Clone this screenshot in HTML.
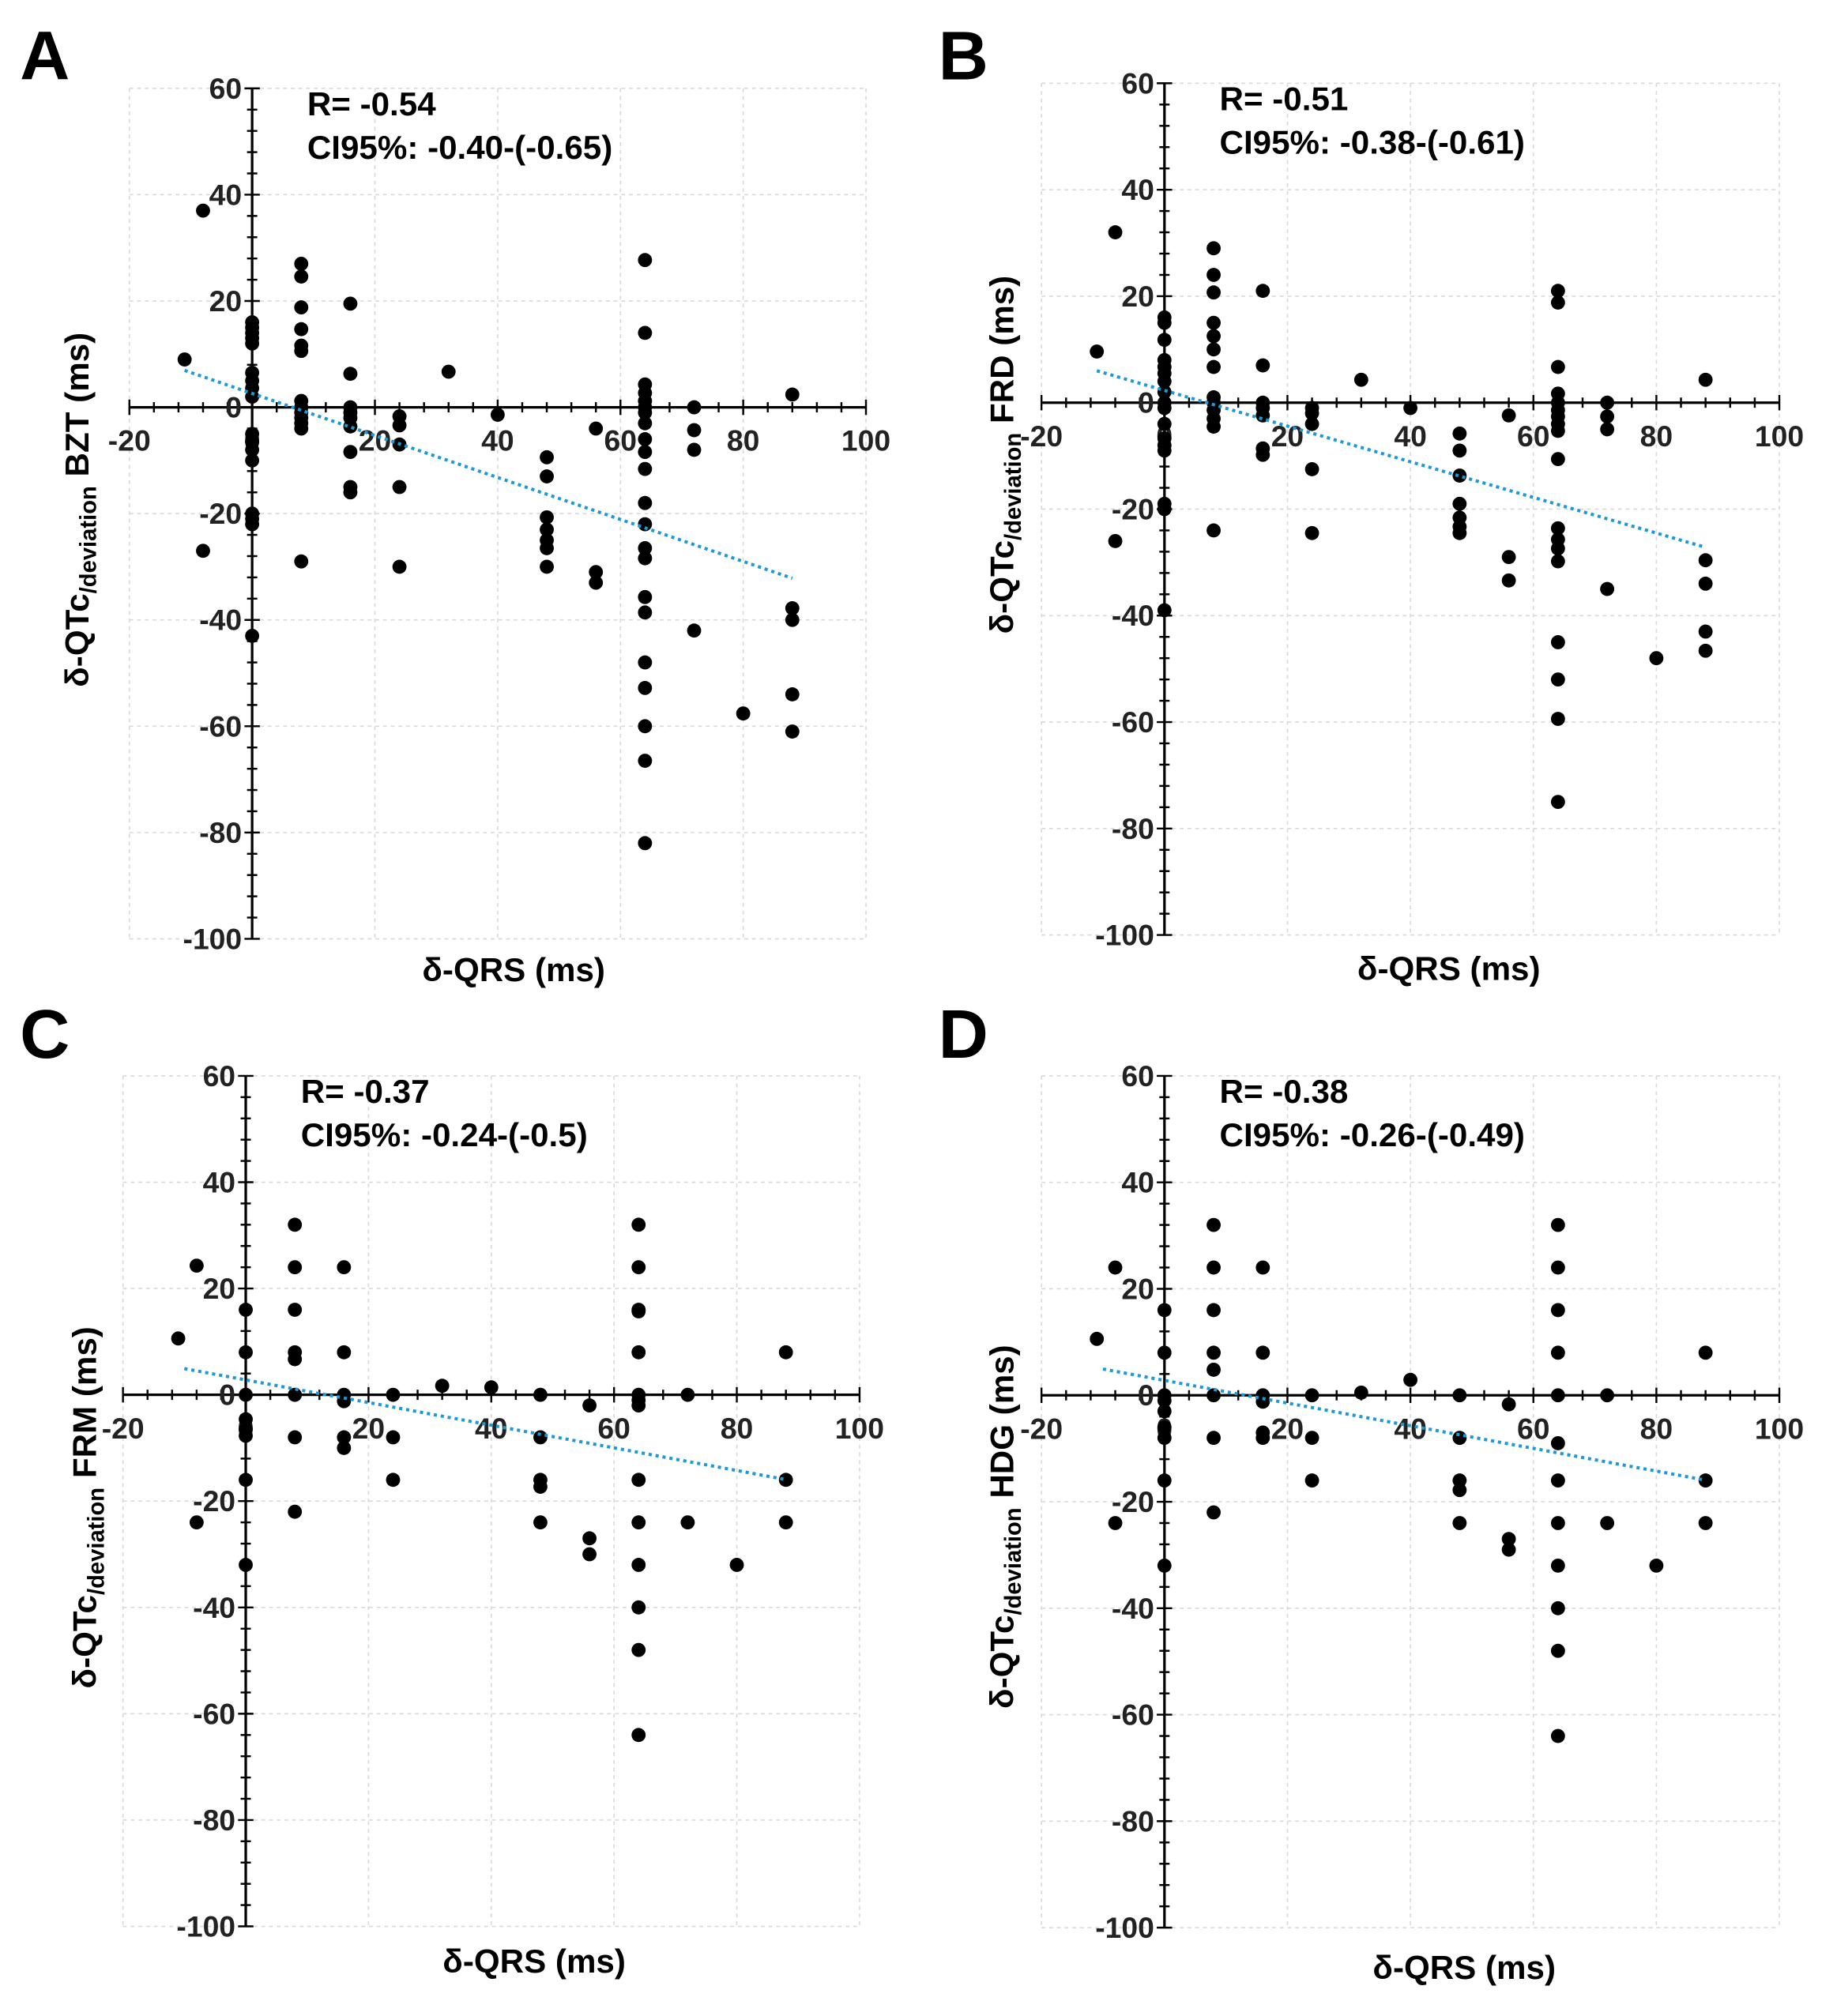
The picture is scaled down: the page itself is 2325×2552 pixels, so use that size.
<!DOCTYPE html>
<html><head><meta charset="utf-8">
<style>
html,body{margin:0;padding:0;background:#fff;}
svg{display:block;font-family:"Liberation Sans",Arial,sans-serif;}
</style></head>
<body>
<svg id="fig" width="2325" height="2552" viewBox="0 0 1434 1574" preserveAspectRatio="none" xmlns="http://www.w3.org/2000/svg"></svg>
<script>
const xTicks=[-20,0,20,40,60,80,100];
const yTicks=[60,40,20,0,-20,-40,-60,-80,-100];
// Panel A (BZT)
const aX=[-11,-8,-8, 0,0,0,0,0,0,0,0,0,0,0,0,0,0,0,0,0, 8,8,8,8,8,8,8,8,8,8,8,8,8, 16,16,16,16,16,16,16,16,16, 24,24,24,24,24, 32,40, 48,48,48,48,48,48,48, 56,56,56, 64,64,64,64,64,64,64,64,64,64,64,64,64,64,64,64,64,64,64,64,64,64, 72,72,72,72, 80, 88,88,88,88,88];
const aY=[9,37,-27, 16,15,14,13,12,6.5,5,3.6,2,-5,-6.5,-8,-10,-20,-21,-22,-43, 27,24.6,18.8,14.7,11.6,10.6,1.2,0,-1,-2,-3,-4,-29, 19.5,6.3,0,-1,-2,-3.6,-8.4,-15,-16, -1.7,-3.4,-7,-15,-30, 6.7,-1.4, -9.4,-13,-20.7,-23,-25,-26.5,-30, -4,-31,-33, 27.7,14,4.3,2.7,1.2,0,-1,-3,-6,-8.4,-11.6,-18,-22,-26.5,-28.4,-35.7,-38.6,-48,-52.8,-60,-66.5,-82, 0,-4.3,-8,-42, -57.6, 2.4,-37.8,-40,-54,-61];
// Panel B (FRD)
const bX=[-11,-8,-8, 0,0,0,0,0,0,0,0,0,0,0,0,0,0,0,0,0, 8,8,8,8,8,8,8,8,8,8,8,8,8, 16,16,16,16,16,16,16, 24,24,24,24,24, 32,40, 48,48,48,48,48,48,48, 56,56,56, 64,64,64,64,64,64,64,64,64,64,64,64,64,64,64,64,64,64, 72,72,72,72, 80, 88,88,88,88,88];
const bY=[9.6,32,-26, 16,15,11.8,8,6.7,5.5,4,2,0,-1,-4,-6.7,-8,-9,-19,-20,-39, 29,24,20.7,15,12.5,10,6.7,1,0,-1.4,-3,-4.5,-24, 21,7,0,-1,-2.4,-8.6,-9.8, -1,-2,-4,-12.5,-24.5, 4.3,-1, -5.8,-9,-13.7,-19,-21.6,-23.3,-24.5, -2.4,-29,-33.4, 21,18.8,6.7,1.7,0,-1.4,-2.6,-4,-5.3,-10.6,-23.6,-25.7,-27.4,-29.8,-45,-52,-59.4,-75, 0,-2.6,-5,-35, -48, 4.3,-29.6,-34,-43,-46.6];
// Panel C (FRM)
const cX=[-11,-8,-8, 0,0,0,0,0,0,0,0, 8,8,8,8,8,8,8,8, 16,16,16,16,16,16, 24,24,24, 32,40, 48,48,48,48,48, 56,56,56, 64,64,64,64,64,64,64,64,64,64,64,64,64,64, 72,72, 80, 88,88,88];
const cY=[10.6,24.3,-24, 16,8,0,-4.6,-6.5,-7.7,-16,-32, 32,24,16,8,6.7,0,-8,-22, 24,8,0,-1.2,-8,-10, 0,-8,-16, 1.7,1.4, 0,-8,-16,-17.3,-24, -2,-27,-30, 32,24,16,15.7,8,0,-1,-2,-16,-24,-32,-40,-48,-64, 0,-24, -32, 8,-16,-24];
// Panel D (HDG)
const dX=[-11,-8,-8, 0,0,0,0,0,0,0,0,0, 8,8,8,8,8,8,8,8, 16,16,16,16,16,16, 24,24,24, 32,40, 48,48,48,48,48, 56,56,56, 64,64,64,64,64,64,64,64,64,64,64,64, 72,72, 80, 88,88,88];
const dY=[10.6,24,-24, 16,8,0,-1,-3,-6,-8,-16,-32, 32,24,16,8,4.8,0,-8,-22, 24,8,0,-1.2,-7,-8, 0,-8,-16, 0.5,2.9, 0,-8,-16,-17.8,-24, -1.7,-27,-29, 32,24,16,8,0,-9,-16,-24,-32,-40,-48,-64, 0,-24, -32, 8,-16,-24];
// trend lines: [x0, x1], [slope, intercept]
const trendXA=[-11,88], trendA=[-0.395,2.6];
const trendXB=[-11,88], trendB=[-0.335,2.3];
const trendXC=[-10,88], trendC=[-0.213,2.8];
const trendXD=[-10,88], trendD=[-0.213,2.8];
const letters=["A","B","C","D"];
const rTexts=["R= -0.54","R= -0.51","R=  -0.37","R= -0.38"];
const ciTexts=["CI95%: -0.40-(-0.65)","CI95%: -0.38-(-0.61)","CI95%: -0.24-(-0.5)","CI95%: -0.26-(-0.49)"];
const drugs=["BZT","FRD","FRM","HDG"];

const NS="http://www.w3.org/2000/svg";
const svg=document.getElementById('fig');
function mk(tag,attrs,parent){const e=document.createElementNS(NS,tag);for(const k in attrs)e.setAttribute(k,attrs[k]);(parent||svg).appendChild(e);return e;}

const panels=[
 {xl:101,xr:676,yt:69,yb:733,X:aX,Y:aY,tx:trendXA,tr:trendA,lx:35,ly:62,ytx:60,yty:398,xtx:401,xty:766},
 {xl:813,xr:1389,yt:65,yb:730,X:bX,Y:bY,tx:trendXB,tr:trendB,lx:752,ly:62,ytx:782,yty:355,xtx:1131,xty:765},
 {xl:96,xr:671,yt:840,yb:1504,X:cX,Y:cY,tx:trendXC,tr:trendC,lx:35,ly:826,ytx:66,yty:1177,xtx:417,xty:1540},
 {xl:813,xr:1389,yt:840,yb:1505,X:dX,Y:dY,tx:trendXD,tr:trendD,lx:752,ly:826,ytx:782,yty:1192,xtx:1143,xty:1545}
];
panels.forEach((p,i)=>{
 const g=mk('g',{});
 
 
 const sx=v=>p.xl+(v+20)/120*(p.xr-p.xl);
 const sy=v=>p.yt+(60-v)/160*(p.yb-p.yt);
 xTicks.forEach(t=>{const l=mk('line',{x1:sx(t),x2:sx(t),y1:p.yt,y2:p.yb,stroke:'#d9d9d9','stroke-width':1,'stroke-dasharray':'3,3'},g);
  });
 yTicks.forEach(t=>{const l=mk('line',{x1:p.xl,x2:p.xr,y1:sy(t),y2:sy(t),stroke:'#d9d9d9','stroke-width':1,'stroke-dasharray':'3,3'},g);
  });
 const x0=sx(0),y0=sy(0);
 const ax=mk('line',{x1:p.xl,x2:p.xr,y1:y0,y2:y0,stroke:'#000','stroke-width':2},g);
 
 const ay=mk('line',{x1:x0,x2:x0,y1:p.yt,y2:p.yb,stroke:'#000','stroke-width':2},g);
 
 for(let v=-20;v<=100;v+=4){const big=v%20===0;mk('line',{x1:sx(v),x2:sx(v),y1:y0-(big?6:4),y2:y0+(big?6:4),stroke:'#000','stroke-width':1.5},g);}
 for(let v=-100;v<=60;v+=4){const big=v%20===0;mk('line',{x1:x0-(big?6:4),x2:x0+(big?6:4),y1:sy(v),y2:sy(v),stroke:'#000','stroke-width':1.5},g);}
 xTicks.forEach(t=>{const tx=mk('text',{x:sx(t),y:y0+34,'text-anchor':'middle','font-size':23,'font-weight':'bold',fill:'#222'},g);tx.textContent=t;
  });
 yTicks.forEach(t=>{const tx=mk('text',{x:x0-8,y:sy(t)+8,'text-anchor':'end','font-size':23,'font-weight':'bold',fill:'#222'},g);tx.textContent=t;
  });
 p.X.forEach((xv,k)=>{const c=mk('circle',{cx:sx(xv),cy:sy(p.Y[k]),r:5.5,fill:'#000'},g);
  });
 const tl=mk('line',{x1:sx(p.tx[0]),y1:sy(p.tr[0]*p.tx[0]+p.tr[1]),x2:sx(p.tx[1]),y2:sy(p.tr[0]*p.tx[1]+p.tr[1]),stroke:'#1a9ad6','stroke-width':2.5,'stroke-dasharray':'2.5,3'},g);
 
 const L=mk('text',{x:p.lx,y:p.ly,'text-anchor':'middle','font-size':54,'font-weight':'bold'},g);L.textContent=letters[i];
 
 const R=mk('text',{x:x0+43,y:p.yt+21,'font-size':26,'font-weight':'bold'},g);R.textContent=rTexts[i];
 
 const C=mk('text',{x:x0+43,y:p.yt+55,'font-size':26,'font-weight':'bold'},g);C.textContent=ciTexts[i];
 
 const XT=mk('text',{x:p.xtx,y:p.xty,'text-anchor':'middle','font-size':26,'font-weight':'bold'},g);XT.textContent='δ-QRS (ms)';
 
 const YT=mk('text',{x:0,y:0,'text-anchor':'middle','font-size':26,'font-weight':'bold',transform:`translate(${p.ytx+9},${p.yty}) rotate(-90)`},g);
 
 const t1=mk('tspan',{},YT);t1.textContent='δ-QTc';
 const t2=mk('tspan',{'font-size':18,dy:6},YT);t2.textContent='/deviation';
 const t3=mk('tspan',{dy:-6},YT);t3.textContent=' '+drugs[i]+' (ms)';
});
</script>
</body></html>
